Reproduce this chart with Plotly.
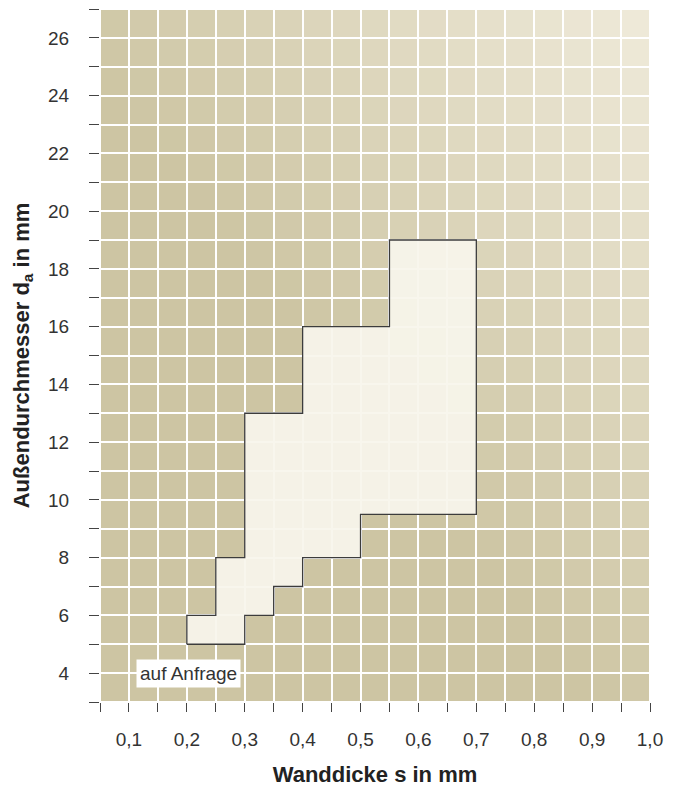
import numpy as np
import plotly.graph_objects as go

# Region outline (Wanddicke s in mm, Außendurchmesser d_a in mm)
region_s = [0.2, 0.2, 0.25, 0.25, 0.3, 0.3, 0.4, 0.4, 0.55, 0.55, 0.7, 0.7,
            0.5, 0.5, 0.4, 0.4, 0.35, 0.35, 0.3, 0.3, 0.2]
region_d = [5, 6, 6, 8, 8, 13, 13, 16, 16, 19, 19, 9.5,
            9.5, 8, 8, 7, 7, 6, 6, 5, 5]

x_tickvals = [round(0.05 * i, 2) for i in range(1, 21)]
x_ticktext = ["" if i % 2 else f"{0.05*i:.1f}".replace(".", ",") for i in range(1, 21)]
y_tickvals = list(range(3, 28))
y_ticktext = [str(v) if (v % 2 == 0 and 4 <= v <= 26) else "" for v in y_tickvals]

label_text = "auf Anfrage"
label_pos = (0.202, 4.0)

# background gradient cells (decoration)
xc = np.arange(0.075, 1.0, 0.05)
yc = np.arange(3.5, 27.0, 1.0)
XX, YY = np.meshgrid(xc, yc)
s = (XX - 0.05) / 0.95 + (YY - 3) / 24
zz = np.clip((s - 0.9) / 1.05, 0, 1)

fig = go.Figure()
fig.add_trace(go.Heatmap(
    x=xc, y=yc, z=zz, zmin=0, zmax=1,
    colorscale=[[0, "rgb(205,197,163)"], [1, "rgb(238,233,216)"]],
    showscale=False, xgap=2, ygap=2, hoverinfo="skip"))
fig.add_trace(go.Scatter(
    x=region_s, y=region_d, mode="lines", fill="toself",
    fillcolor="rgba(248,245,236,0.93)",
    line=dict(color="#3c3c3c", width=1.3), hoverinfo="skip", showlegend=False))

fig.add_annotation(x=label_pos[0], y=label_pos[1], text=label_text, showarrow=False,
                   bgcolor="white", borderpad=3,
                   font=dict(size=19, color="#333333", family="Liberation Sans, Arial"))

fig.update_layout(
    width=681, height=787,
    margin=dict(l=100, r=31, t=9, b=85),
    paper_bgcolor="white", plot_bgcolor="white",
    font=dict(family="Liberation Sans, Arial", color="#333333", size=19),
    showlegend=False,
)
fig.update_xaxes(range=[0.05, 1.0], tickvals=x_tickvals, ticktext=x_ticktext,
                 ticks="outside", ticklen=9, tickcolor="#444444", tickwidth=1,
                 showgrid=False, zeroline=False, showline=False, automargin=False,
                 ticklabelstandoff=11,
                 title=dict(text="<b>Wanddicke s in mm</b>", font=dict(size=22, color="#222222"),
                            standoff=18))
fig.update_yaxes(range=[3, 27], tickvals=y_tickvals, ticktext=y_ticktext,
                 ticks="outside", ticklen=10, tickcolor="#444444", tickwidth=1,
                 showgrid=False, zeroline=False, showline=False, automargin=False,
                 ticklabelstandoff=16,
                 title=dict(text="<b>Außendurchmesser d<sub>a</sub> in mm</b>",
                            font=dict(size=22, color="#222222"), standoff=12))

fig.write_html("out.html", config={"displayModeBar": False},
               post_script="document.body.style.margin='0';document.body.style.padding='0';")
